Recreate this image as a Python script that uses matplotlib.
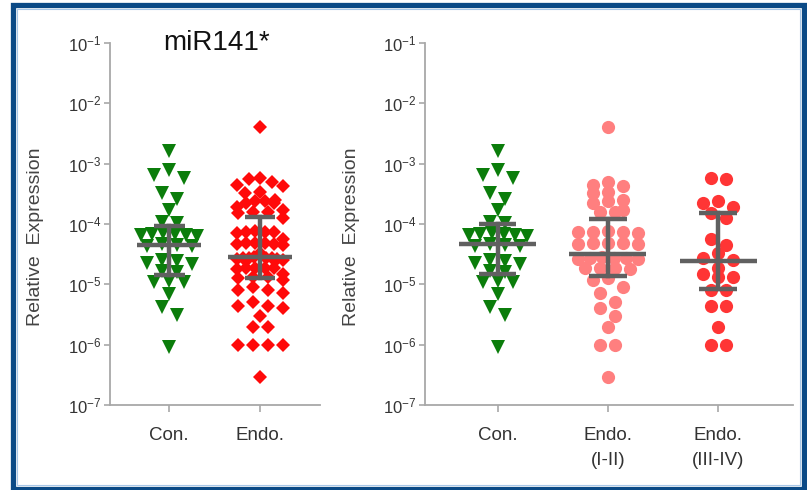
import numpy as np
import matplotlib
matplotlib.use('Agg')
import matplotlib.pyplot as plt
from matplotlib.patches import Rectangle
from matplotlib.ticker import LogLocator, NullLocator

plt.rcParams['font.family'] = ['Liberation Sans', 'DejaVu Sans']

# relative expression values
con = [1.6e-3, 7.8e-4, 6.5e-4, 5.8e-4, 3.3e-4, 2.6e-4, 1.7e-4, 1.05e-4, 1.1e-4,
       6.8e-5, 6.6e-5, 6.5e-5, 7.0e-5, 6.4e-5, 6.7e-5,
       4.6e-5, 4.4e-5, 4.5e-5, 4.3e-5,
       2.4e-5, 2.3e-5, 2.5e-5, 2.2e-5,
       1.65e-5, 1.6e-5,
       1.1e-5, 1.1e-5, 1.15e-5,
       7.0e-6, 4.2e-6, 3.1e-6, 9.0e-7]

endo_1_2 = [4.0e-3,
            5.0e-4, 4.5e-4, 4.2e-4, 3.4e-4, 3.3e-4,
            2.5e-4, 2.4e-4, 2.2e-4,
            1.7e-4, 1.6e-4, 1.58e-4,
            7.6e-5, 7.4e-5, 7.3e-5, 7.5e-5, 7.2e-5,
            4.9e-5, 4.8e-5, 4.7e-5, 4.8e-5, 4.6e-5,
            2.8e-5, 2.7e-5, 2.6e-5, 2.7e-5, 2.65e-5, 2.75e-5,
            1.9e-5, 1.85e-5, 1.8e-5, 1.85e-5,
            1.25e-5, 1.2e-5,
            9.1e-6, 7.1e-6, 5.1e-6, 4.0e-6, 2.95e-6, 2.0e-6,
            1.0e-6, 1.0e-6, 2.9e-7]

endo_3_4 = [5.7e-4, 5.5e-4,
            2.4e-4, 2.2e-4, 1.95e-4,
            1.5e-4, 1.26e-4,
            5.6e-5, 4.5e-5,
            3.3e-5, 2.7e-5, 2.5e-5,
            1.85e-5, 1.5e-5, 1.32e-5, 1.3e-5,
            8.0e-6, 8.0e-6,
            4.3e-6, 4.3e-6,
            2.0e-6,
            1.0e-6, 1.0e-6]

endo_all = endo_1_2 + endo_3_4

# centre line and error bar ends
left_labels = ['Con.', 'Endo.']
left_mid = [4.5e-5, 2.8e-5]
left_low = [1.45e-5, 1.25e-5]
left_high = [9.3e-5, 1.32e-4]

right_labels = ['Con.', 'Endo.\n(I-II)', 'Endo.\n(III-IV)']
right_mid = [4.7e-5, 3.2e-5, 2.4e-5]
right_low = [1.5e-5, 1.4e-5, 8.3e-6]
right_high = [1.0e-4, 1.2e-4, 1.55e-4]

W, H = 807, 490
fig = plt.figure(figsize=(W / 100, H / 100), dpi=100)
fig.patch.set_facecolor('white')

ax1 = fig.add_axes([110 / W, 85 / H, 210 / W, 362 / H])
ax2 = fig.add_axes([425 / W, 85 / H, 368 / W, 362 / H])
ax1.set_xlim(-0.65, 1.66)
ax2.set_xlim(-0.66, 2.68)


def swarm_x(values, center, step, max_span, thr=0.15):
    # simple row-based swarm: points close in log-y share one row, centred
    logs = np.log10(values)
    order = np.argsort(-logs)
    xs = np.zeros(len(values))
    groups = []
    cur = [order[0]]
    for idx in order[1:]:
        if logs[cur[0]] - logs[idx] > thr + 1e-9:
            groups.append(cur)
            cur = [idx]
        else:
            cur.append(idx)
    groups.append(cur)
    for g in groups:
        n = len(g)
        s = step if n == 1 else min(step, max_span / (n - 1))
        slots = sorted(np.arange(n) - (n - 1) / 2, key=lambda v: (abs(v), v))
        for idx, off in zip(g, slots):
            xs[idx] = center + off * s
    return xs


def unit_per_px(ax):
    lo, hi = ax.get_xlim()
    return (hi - lo) / (ax.get_position().width * W)


def style_axis(ax, labels):
    ax.set_yscale('log')
    ax.set_ylim(1e-7, 1e-1)
    ax.yaxis.set_major_locator(LogLocator(base=10, numticks=10))
    ax.yaxis.set_minor_locator(NullLocator())
    for s in ['top', 'right']:
        ax.spines[s].set_visible(False)
    for s in ['left', 'bottom']:
        ax.spines[s].set_color('#a8a8a8')
        ax.spines[s].set_linewidth(1.3)
    ax.tick_params(axis='y', direction='out', length=4, width=1.2,
                   color='#a8a8a8', labelsize=12, labelcolor='#333333', pad=2)
    ax.tick_params(axis='x', direction='out', length=5, width=1.2,
                   color='#a8a8a8', labelsize=13.5, labelcolor='#333333', pad=11)
    ax.set_xticks(range(len(labels)))
    ax.set_xticklabels(labels, linespacing=1.6, va='top')
    ax.set_facecolor('white')


def draw_bars(ax, mids, lows, highs):
    grey = '#606060'
    for i, (m, lo, hi) in enumerate(zip(mids, lows, highs)):
        ax.plot([i - 0.35, i + 0.35], [m, m], color=grey, lw=3.2,
                solid_capstyle='butt', zorder=5)
        ax.plot([i, i], [lo, hi], color=grey, lw=3.2, zorder=5)
        ax.plot([i - 0.17, i + 0.17], [lo, lo], color=grey, lw=3.2,
                solid_capstyle='butt', zorder=5)
        ax.plot([i - 0.17, i + 0.17], [hi, hi], color=grey, lw=3.2,
                solid_capstyle='butt', zorder=5)


style_axis(ax1, left_labels)
style_axis(ax2, right_labels)

green = '#0b7d0b'
u1 = unit_per_px(ax1)
u2 = unit_per_px(ax2)

ax1.plot(swarm_x(con, 0, 15 * u1, 56 * u1), con, 'v', color=green,
         markersize=9.5, markeredgewidth=0, zorder=3, linestyle='none')
ax1.plot(swarm_x(endo_all, 1, 15 * u1, 46 * u1), endo_all, 'D', color='#ff0a0a',
         markersize=7.5, markeredgewidth=0, zorder=3, linestyle='none')
draw_bars(ax1, left_mid, left_low, left_high)

ax2.plot(swarm_x(con, 0, 15 * u2, 58 * u2), con, 'v', color=green,
         markersize=9.5, markeredgewidth=0, zorder=3, linestyle='none')
ax2.plot(swarm_x(endo_1_2, 1, 15 * u2, 60 * u2), endo_1_2, 'o', color='#ff7f7f',
         markersize=9.5, markeredgewidth=0, zorder=3, linestyle='none')
ax2.plot(swarm_x(endo_3_4, 2, 15 * u2, 48 * u2), endo_3_4, 'o', color='#ff3535',
         markersize=9.5, markeredgewidth=0, zorder=3, linestyle='none')
draw_bars(ax2, right_mid, right_low, right_high)

fig.text(217 / W, 1 - 50 / H, 'miR141*', fontsize=20, ha='center',
         va='baseline', color='#111111')
fig.text(36 / W, 1 - 237 / H, 'Relative  Expression', rotation=90, fontsize=14,
         ha='center', va='center', color='#444444')
fig.text(352 / W, 1 - 237 / H, 'Relative  Expression', rotation=90, fontsize=14,
         ha='center', va='center', color='#444444')

# dark blue frame round the whole picture
fig.patches.append(Rectangle((13.5 / W, 1.5 / H), 790 / W, 483 / H,
                             transform=fig.transFigure, fill=False,
                             edgecolor='#0b4a86', linewidth=3.8))
fig.patches.append(Rectangle((17 / W, 5 / H), 783 / W, 476 / H,
                             transform=fig.transFigure, fill=False,
                             edgecolor='#a9c8e8', linewidth=0.8))

fig.savefig('out.png', dpi=100)
